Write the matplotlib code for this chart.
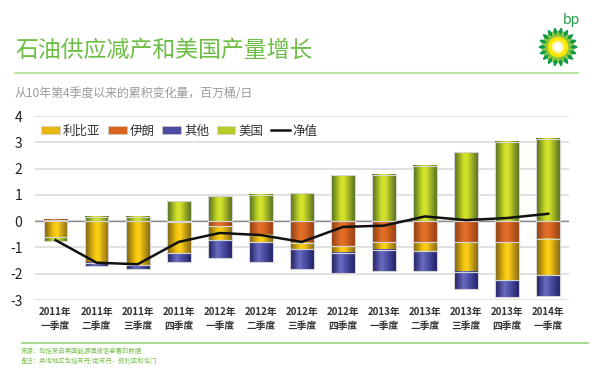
import matplotlib
matplotlib.use('Agg')
import matplotlib.pyplot as plt
import numpy as np
from matplotlib.colors import LinearSegmentedColormap
from matplotlib.patches import Polygon, Circle, Patch
from matplotlib.lines import Line2D

plt.rcParams['font.family'] = ['Noto Sans CJK SC', 'DejaVu Sans']

# data, million barrels/day, cumulative change since 2010 Q4
years = ['2011年', '2011年', '2011年', '2011年', '2012年', '2012年', '2012年',
         '2012年', '2013年', '2013年', '2013年', '2013年', '2014年']
quarters = ['一季度', '二季度', '三季度', '四季度', '一季度', '二季度', '三季度',
            '四季度', '一季度', '二季度', '三季度', '四季度', '一季度']
libya = [-0.60, -1.60, -1.68, -1.16, -0.53, -0.30, -0.24, -0.25, -0.30, -0.34, -1.11, -1.44, -1.40]
iran = [0.05, 0.0, 0.0, -0.05, -0.19, -0.51, -0.83, -0.95, -0.79, -0.81, -0.81, -0.81, -0.66]
others = [0.0, -0.12, -0.14, -0.34, -0.67, -0.74, -0.76, -0.77, -0.82, -0.76, -0.66, -0.64, -0.79]
us = [-0.15, 0.16, 0.16, 0.76, 0.94, 0.99, 1.06, 1.74, 1.77, 2.10, 2.62, 3.03, 3.14]
net = [-0.72, -1.58, -1.64, -0.79, -0.45, -0.53, -0.79, -0.22, -0.17, 0.18, 0.04, 0.12, 0.28]

series = {
    '利比亚': (libya, ['#7a5e12', '#f2c40c', '#ffd21a', '#8a6a10'], '#e8b810'),
    '伊朗': (iran, ['#8e3c12', '#e0702a', '#e46c24', '#9a4216'], '#d8641e'),
    '其他': (others, ['#1e1e5e', '#6a6cc0', '#5658b0', '#22226a'], '#4a4ca0'),
    '美国': (us, ['#4e6a1c', '#cfe028', '#d6e22a', '#5a7420'], '#b8cc28'),
}
stack_order = ['伊朗', '利比亚', '其他', '美国']
legend_order = ['利比亚', '伊朗', '其他', '美国']

fig = plt.figure(figsize=(6, 3.77), dpi=100)
ax = fig.add_axes([0.0583, 0.2042, 0.8897, 0.4881])

x = np.arange(len(years))
width = 0.58
pos_bottom = np.zeros(len(x))
neg_bottom = np.zeros(len(x))
grad = np.linspace(0, 1, 64).reshape(1, -1)

for name in stack_order:
    vals, cols, solid = series[name]
    vals = np.array(vals)
    bottom = np.where(vals >= 0, pos_bottom, neg_bottom)
    bars = ax.bar(x, vals, width, bottom=bottom, facecolor='none',
                  edgecolor='#d4d4d4', linewidth=0.8, zorder=3)
    cmap = LinearSegmentedColormap.from_list(name, list(zip([0, 0.4, 0.55, 1], cols)))
    for p in bars.patches:
        if abs(p.get_height()) < 1e-6:
            p.set_visible(False)
            continue
        x0, y0 = p.get_x(), p.get_y()
        ax.imshow(grad, cmap=cmap, aspect='auto', interpolation='bilinear',
                  extent=(x0, x0 + p.get_width(), y0, y0 + p.get_height()), zorder=2)
    pos_bottom += np.where(vals >= 0, vals, 0)
    neg_bottom += np.where(vals < 0, vals, 0)

ax.plot(x, net, color='#111111', linewidth=1.8, zorder=4)

ax.set_xlim(-0.5, len(x) - 0.5)
ax.set_ylim(-3, 4)
ax.set_yticks(range(-3, 5))
ax.set_yticklabels([str(v) for v in range(-3, 5)], fontsize=10, color='#222222')
ax.yaxis.grid(True, color='#d9d9d9', linewidth=1.1, zorder=0)
ax.axhline(0, color='#8c8c8c', linewidth=1.0, zorder=1)
ax.set_axisbelow(True)
ax.set_xticks(x)
ax.set_xticklabels([f'{y}\n{q}' for y, q in zip(years, quarters)], fontsize=7,
                   color='#333333', fontweight='bold', linespacing=1.45)
ax.tick_params(axis='both', length=0)
ax.tick_params(axis='y', pad=9)
ax.tick_params(axis='x', pad=5)
for s in ax.spines.values():
    s.set_visible(False)

handles = [Patch(facecolor=series[n][2], edgecolor='#d0d0d0', linewidth=0.5) for n in legend_order]
handles.append(Line2D([0], [0], color='#111111', linewidth=1.8))
labels = legend_order + ['净值']
ax.legend(handles, labels, loc='center left', bbox_to_anchor=(-0.01, 0.918), ncol=5,
          frameon=False, fontsize=9, handlelength=1.5, handleheight=0.55,
          handletextpad=0.25, columnspacing=0.6, labelcolor='#333333')

# header
fig.text(0.025, 0.867, '石油供应减产和美国产量增长', fontsize=16.5, color='#6cbe45', va='center')
fig.add_artist(Line2D([0.025, 0.963], [0.806, 0.806], color='#bfe3a8', linewidth=1.5))
fig.text(0.025, 0.753, '从10年第4季度以来的累积变化量，百万桶/日', fontsize=8.6,
         color='#9a9a9a', va='center')

# footer
fig.add_artist(Line2D([0.037, 0.98], [0.090, 0.090], color='#95d27a', linewidth=1.2))
fig.text(0.035, 0.069, '来源：包括来自美国能源情报信息署的数据', fontsize=4.6,
         color='#7cc24e', va='center')
fig.text(0.035, 0.042, '备注：其他地区包括苏丹/南苏丹，叙利亚和也门', fontsize=4.6,
         color='#7cc24e', va='center')

# bp logo
lax = fig.add_axes([538 / 600, 1 - 67 / 377, 40 / 600, 40 / 377])
lax.set_xlim(-1.05, 1.05)
lax.set_ylim(-1.05, 1.05)
lax.set_aspect('equal')
lax.axis('off')
def star(n, r_out, r_in, rot):
    ang = np.linspace(0, 2 * np.pi, 2 * n, endpoint=False) + rot
    r = np.where(np.arange(2 * n) % 2 == 0, r_out, r_in)
    return np.column_stack([r * np.cos(ang), r * np.sin(ang)])
lax.add_patch(Polygon(star(18, 1.0, 0.72, 0), color='#0e9a48'))
lax.add_patch(Polygon(star(18, 0.82, 0.55, np.pi / 18), color='#8cc63f'))
lax.add_patch(Circle((0, 0), 0.5, color='#ffe600'))
lax.add_patch(Circle((0, 0), 0.3, color='#fff8a0'))
lax.add_patch(Circle((0, 0), 0.17, color='white'))
fig.text(0.952, 0.947, 'bp', fontsize=10, color='#1f9a48', ha='center', va='center')

fig.savefig('out.png', dpi=100)
